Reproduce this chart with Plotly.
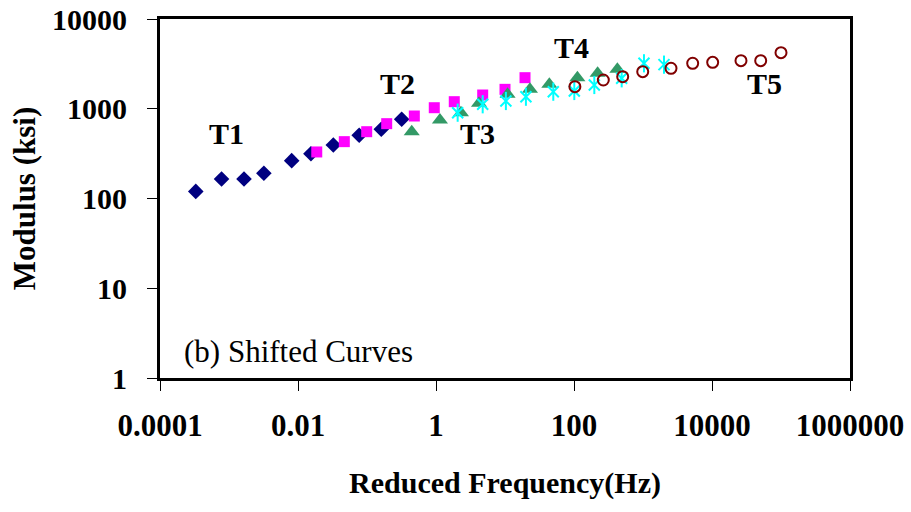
import math
import plotly.graph_objects as go

# Data: reduced frequency (Hz) and modulus (ksi) per temperature
t1_freq = [0.00033, 0.00078, 0.00165, 0.0032, 0.0081, 0.0154, 0.0325, 0.077, 0.161, 0.318]
t1_mod = [120, 165, 165, 191, 264, 315, 394, 506, 590, 763]

t2_freq = [0.0187, 0.0469, 0.099, 0.193, 0.485, 0.944, 1.84, 4.75, 10.0, 19.5]
t2_mod = [330, 430, 555, 682, 830, 1027, 1199, 1423, 1646, 2219]

t3_freq = [0.445, 1.14, 2.3, 4.2, 10.9, 23.0, 43.9, 112, 220, 425]
t3_mod = [555, 749, 904, 1149, 1449, 1646, 1873, 2219, 2483, 2754]

t4_freq = [2.06, 4.75, 10.3, 20.1, 50.1, 101, 197, 491, 1033, 2014]
t4_mod = [904, 1122, 1220, 1362, 1549, 1577, 1840, 2184, 3209, 3100]

t5_freq = [103, 266, 508, 991, 2546, 5248, 10230, 26300, 50800, 100000]
t5_mod = [1762, 2090, 2277, 2588, 2824, 3209, 3292, 3432, 3432, 4216]

x_tickvals = [0.0001, 0.01, 1, 100, 10000, 1000000]
x_ticktext = ["0.0001", "0.01", "1", "100", "10000", "1000000"]
y_tickvals = [1, 10, 100, 1000, 10000]
y_ticktext = ["1", "10", "100", "1000", "10000"]

labels = ["T1", "T2", "T3", "T4", "T5"]
label_freq = [0.00093, 0.277, 3.93, 90.6, 56750]
label_mod = [525, 1888, 525, 4753, 1888]

FONT = "Liberation Serif, Times New Roman, serif"

fig = go.Figure()
fig.add_trace(go.Scatter(x=t1_freq, y=t1_mod, mode="markers", name="T1",
                         marker=dict(symbol="diamond", size=12, color="#000080")))
fig.add_trace(go.Scatter(x=t2_freq, y=t2_mod, mode="markers", name="T2",
                         marker=dict(symbol="square", size=11, color="#FF00FF")))
fig.add_trace(go.Scatter(x=t3_freq, y=t3_mod, mode="markers", name="T3",
                         marker=dict(symbol="triangle-up", size=14, color="#339966")))
fig.add_trace(go.Scatter(x=t4_freq, y=t4_mod, mode="markers", name="T4",
                         marker=dict(symbol="x-thin-open", size=11, color="#00FFFF",
                                     line=dict(color="#00FFFF", width=2))))
fig.add_trace(go.Scatter(x=t4_freq, y=t4_mod, mode="markers", name="T4b",
                         marker=dict(symbol="line-ns-open", size=13, color="#00FFFF",
                                     line=dict(color="#00FFFF", width=2))))
fig.add_trace(go.Scatter(x=t5_freq, y=t5_mod, mode="markers", name="T5",
                         marker=dict(symbol="circle-open", size=11, color="#800000",
                                     line=dict(color="#800000", width=2))))

for lab, fx, my in zip(labels, label_freq, label_mod):
    fig.add_annotation(x=math.log10(fx), y=math.log10(my), xref="x", yref="y", text=lab,
                       showarrow=False,
                       font=dict(family=FONT, size=30, color="black", weight="bold"),
                       xanchor="center", yanchor="middle")

fig.add_annotation(x=0, y=0.075, xref="paper", yref="paper", xanchor="left", yanchor="middle",
                   xshift=22, text="(b) Shifted Curves", showarrow=False,
                   font=dict(family=FONT, size=31, color="black"))

fig.update_xaxes(type="log", range=[-4, 6], tickvals=x_tickvals, ticktext=x_ticktext,
                 showgrid=False, zeroline=False, showline=True, linecolor="black",
                 linewidth=3, mirror=True, ticks="outside", ticklen=10, tickwidth=1.2,
                 tickcolor="black", ticklabelstandoff=8,
                 tickfont=dict(family=FONT, size=31, color="black", weight="bold"),
                 title=dict(text="Reduced Frequency(Hz)", standoff=30,
                            font=dict(family=FONT, size=30, color="black", weight="bold")))
fig.update_yaxes(type="log", range=[0, 4], tickvals=y_tickvals, ticktext=y_ticktext,
                 showgrid=False, zeroline=False, showline=True, linecolor="black",
                 linewidth=3, mirror=True, ticks="outside", ticklen=10, tickwidth=1.2,
                 tickcolor="black", ticklabelstandoff=14,
                 tickfont=dict(family=FONT, size=30, color="black", weight="bold"),
                 title=dict(text="Modulus (ksi)", standoff=8,
                            font=dict(family=FONT, size=31, color="black", weight="bold")))

fig.update_layout(width=911, height=512, showlegend=False,
                  margin=dict(l=160, r=61, t=19, b=134, autoexpand=False),
                  plot_bgcolor="white", paper_bgcolor="white")

fig.write_html("out.html")
